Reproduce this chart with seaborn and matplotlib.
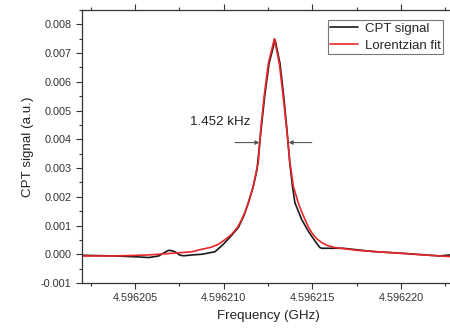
import matplotlib
matplotlib.use('Agg')
import matplotlib.pyplot as plt
import seaborn as sns
from matplotlib.ticker import MultipleLocator, FormatStrFormatter

# Frequency offsets (kHz) from 4.596200 GHz
base_ghz = 4.5962

cpt_khz = [2.01, 3.89, 5.21, 5.77, 6.34, 6.69, 6.90, 7.09, 7.27, 7.54, 7.76, 8.21,
           8.78, 9.51, 9.98, 10.45, 10.83, 11.15, 11.39, 11.67, 11.88, 12.11, 12.31,
           12.56, 12.90, 13.18, 13.39, 13.57, 13.73, 13.88, 14.02, 14.40, 14.77,
           15.15, 15.43, 15.53, 16.75, 18.44, 20.32, 22.20, 22.77, 23.05]
cpt_signal = [-0.035, -0.059, -0.093, -0.114, -0.059, 0.069, 0.138, 0.121, 0.080,
              -0.035, -0.052, -0.024, 0.000, 0.087, 0.346, 0.657, 0.934, 1.349,
              1.789, 2.363, 2.941, 4.325, 5.478, 6.633, 7.457, 6.633, 5.478, 4.325,
              3.173, 2.363, 1.789, 1.211, 0.806, 0.460, 0.232, 0.208, 0.208, 0.093,
              0.024, -0.059, -0.024, -0.010]

fit_khz = [2.01, 3.89, 5.77, 7.65, 8.21, 8.76, 9.29, 9.70, 10.10, 10.45, 10.78,
           11.02, 11.22, 11.39, 11.54, 11.67, 11.86, 11.95, 12.09, 12.28, 12.52,
           12.86, 13.14, 13.36, 13.56, 13.74, 13.93, 14.21, 14.39, 14.59, 14.79,
           14.97, 15.22, 15.53, 15.83, 16.28, 17.50, 19.38, 21.26, 22.77, 23.05]
fit_signal = [-0.059, -0.059, -0.024, 0.059, 0.087, 0.173, 0.242, 0.346, 0.519,
              0.692, 0.934, 1.211, 1.490, 1.789, 2.080, 2.363, 2.941, 3.173, 4.325,
              5.478, 6.633, 7.498, 6.633, 5.478, 4.325, 3.173, 2.363, 1.789, 1.490,
              1.211, 0.934, 0.751, 0.554, 0.405, 0.311, 0.232, 0.138, 0.059, -0.024,
              -0.080, -0.085]

fwhm_label = '1.452 kHz'

# convert to GHz and a.u.
cpt_x = [base_ghz + k * 1e-6 for k in cpt_khz]
cpt_y = [v * 1e-3 for v in cpt_signal]
fit_x = [base_ghz + k * 1e-6 for k in fit_khz]
fit_y = [v * 1e-3 for v in fit_signal]

sns.set_theme(style='ticks')
plt.rcParams['font.family'] = ['Liberation Sans', 'DejaVu Sans']

fig = plt.figure(figsize=(4.5, 3.29), dpi=100)
ax = fig.add_axes([0.1822, 0.1398, 0.829, 0.830])

sns.lineplot(x=cpt_x, y=cpt_y, ax=ax, color='#1a1a1a', linewidth=1.2,
             sort=False, estimator=None, label='CPT signal')
sns.lineplot(x=fit_x, y=fit_y, ax=ax, color='#e8262a', linewidth=1.2,
             sort=False, estimator=None, label='Lorentzian fit')

ax.set_xlim(base_ghz + 2.01e-6, base_ghz + 23.05e-6)
ax.set_ylim(-0.001, 0.0085)

ax.xaxis.set_major_locator(MultipleLocator(5e-6))
ax.xaxis.set_minor_locator(MultipleLocator(2.5e-6))
ax.xaxis.set_major_formatter(FormatStrFormatter('%.6f'))
ax.yaxis.set_major_locator(MultipleLocator(0.001))
ax.yaxis.set_minor_locator(MultipleLocator(0.0005))
ax.yaxis.set_major_formatter(FormatStrFormatter('%.3f'))

ax.tick_params(which='both', direction='out', top=True, right=False,
               labelsize=7.8, labelcolor='#333333', color='#333333', width=0.8)
ax.tick_params(which='major', length=4)
ax.tick_params(which='minor', length=2.5)
for side in ['left', 'bottom', 'top']:
    ax.spines[side].set_color('#333333')
    ax.spines[side].set_linewidth(0.9)
ax.spines['right'].set_visible(False)

ax.set_xlabel('Frequency (GHz)', fontsize=9.6, color='#222222', labelpad=5)
ax.set_ylabel('CPT signal (a.u.)', fontsize=9.6, color='#222222', labelpad=5)

# FWHM arrows and label
arrow_y = 3.886e-3
ax.annotate('', xy=(base_ghz + 12.02e-6, arrow_y), xytext=(base_ghz + 10.64e-6, arrow_y),
            arrowprops=dict(arrowstyle='-|>', color='#555555', lw=0.8,
                            mutation_scale=6, shrinkA=0, shrinkB=0))
ax.annotate('', xy=(base_ghz + 13.66e-6, arrow_y), xytext=(base_ghz + 14.97e-6, arrow_y),
            arrowprops=dict(arrowstyle='-|>', color='#555555', lw=0.8,
                            mutation_scale=6, shrinkA=0, shrinkB=0))
ax.text(base_ghz + 8.10e-6, 4.60e-3, fwhm_label, fontsize=9.6, color='#222222',
        ha='left', va='center')

leg = ax.legend(loc='upper right', bbox_to_anchor=(0.968, 0.963), borderaxespad=0,
                fancybox=False, edgecolor='#777777', framealpha=1, fontsize=9.5,
                handlelength=2.1, handletextpad=0.5, borderpad=0.2, labelspacing=0.35)
leg.get_frame().set_linewidth(0.8)

fig.savefig('out.png', dpi=100)
